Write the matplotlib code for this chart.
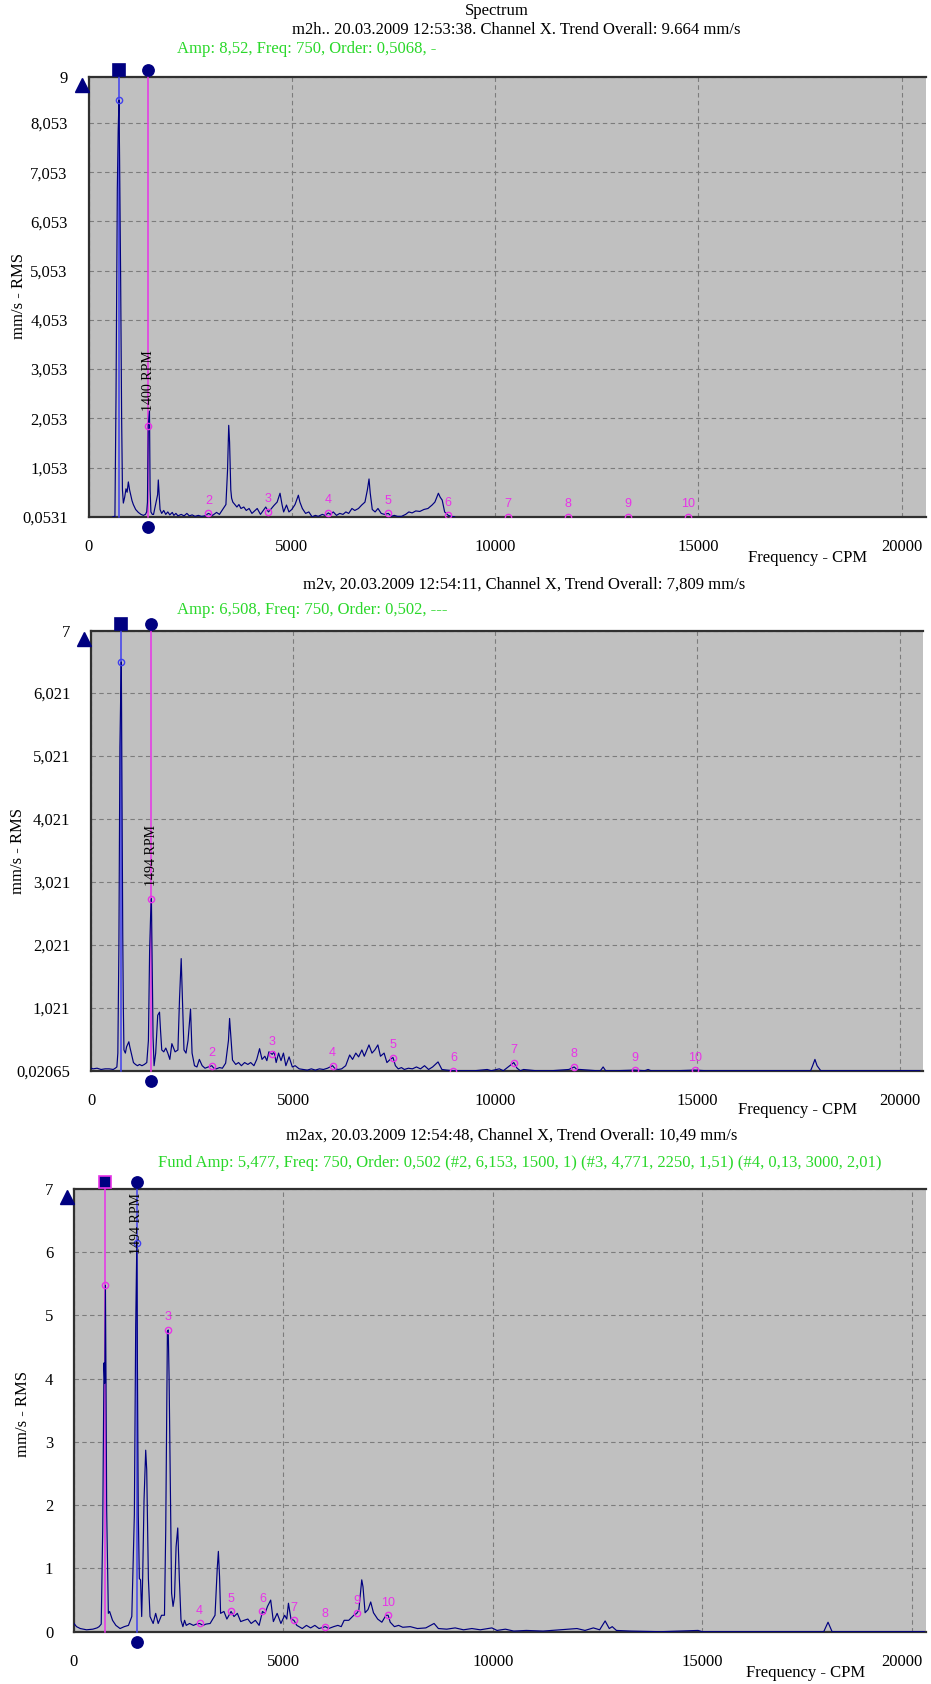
import matplotlib
matplotlib.use("Agg")
import matplotlib.pyplot as plt
import matplotlib.transforms as mtransforms

W, H, DPI = 931, 1684, 100
SERIF = ["Liberation Serif", "DejaVu Serif"]
SANS = ["Liberation Sans", "DejaVu Sans"]

NAVY = "#000080"
CURSOR_BLUE = "#4040ee"
MAGENTA = "#e833e8"
GREEN = "#2ad82a"
PANEL_BG = "#c0c0c0"
GRID = "#7c7c7c"
TEXT_SIZE = 12

# ---------------------------------------------------------------- m2h
m2h_spectrum = [
    (600, 0.0531), (650, 0.06), (677, 2.52), (709, 6.72), (730, 7.9), (750, 8.52),
    (765, 7.29), (791, 4.85), (815, 2.05), (835, 0.6), (857, 0.33), (890, 0.45),
    (922, 0.62), (950, 0.55), (980, 0.76), (1010, 0.6), (1037, 0.5), (1070, 0.38),
    (1103, 0.3), (1160, 0.2), (1226, 0.14), (1290, 0.1), (1349, 0.08), (1400, 0.1),
    (1431, 0.15), (1450, 0.35), (1460, 1.07), (1470, 1.9), (1500, 2.2), (1515, 0.6),
    (1535, 0.15), (1570, 0.1), (1600, 0.1), (1650, 0.3), (1700, 0.5), (1717, 0.8),
    (1735, 0.55), (1760, 0.2), (1800, 0.12), (1850, 0.18), (1900, 0.1), (1950, 0.15),
    (2000, 0.09), (2060, 0.14), (2100, 0.08), (2150, 0.12), (2200, 0.07), (2280, 0.1),
    (2350, 0.07), (2420, 0.12), (2480, 0.07), (2550, 0.09), (2620, 0.06), (2700, 0.08),
    (2780, 0.06), (2860, 0.07), (2950, 0.12), (3000, 0.1), (3050, 0.08), (3150, 0.14),
    (3220, 0.1), (3300, 0.2), (3380, 0.3), (3420, 1.0), (3449, 1.91), (3470, 1.57),
    (3500, 0.6), (3520, 0.43), (3550, 0.35), (3600, 0.3), (3650, 0.25), (3700, 0.3),
    (3750, 0.22), (3820, 0.25), (3880, 0.18), (3950, 0.22), (4020, 0.12), (4100, 0.18),
    (4150, 0.22), (4230, 0.1), (4300, 0.18), (4360, 0.25), (4425, 0.15), (4480, 0.2),
    (4560, 0.28), (4640, 0.35), (4711, 0.53), (4760, 0.3), (4800, 0.15), (4870, 0.29),
    (4930, 0.15), (5000, 0.2), (5080, 0.3), (5162, 0.49), (5200, 0.35), (5260, 0.22),
    (5340, 0.12), (5420, 0.15), (5500, 0.05), (5580, 0.08), (5650, 0.06), (5750, 0.1),
    (5820, 0.08), (5900, 0.13), (5950, 0.1), (6020, 0.15), (6100, 0.08), (6180, 0.12),
    (6260, 0.1), (6330, 0.15), (6400, 0.12), (6480, 0.22), (6550, 0.18), (6640, 0.22),
    (6720, 0.29), (6800, 0.35), (6860, 0.6), (6900, 0.82), (6930, 0.53), (6980, 0.2),
    (7050, 0.15), (7120, 0.22), (7200, 0.12), (7280, 0.1), (7375, 0.12), (7450, 0.06),
    (7520, 0.08), (7600, 0.06), (7700, 0.06), (7800, 0.1), (7880, 0.15), (7960, 0.13),
    (8050, 0.17), (8150, 0.16), (8250, 0.2), (8350, 0.22), (8450, 0.29), (8520, 0.35),
    (8606, 0.53), (8650, 0.45), (8700, 0.39), (8760, 0.15), (8850, 0.08), (8920, 0.06),
    (9000, 0.0531),
]
m2h_yticks = [0.0531, 1.053, 2.053, 3.053, 4.053, 5.053, 6.053, 7.053, 8.053, 9]
m2h_ylabels = ["0,0531", "1,053", "2,053", "3,053", "4,053", "5,053", "6,053",
               "7,053", "8,053", "9"]
m2h_harm_freq = [2950, 4425, 5900, 7375, 8850, 10325, 11800, 13275, 14750]
m2h_harm_amp = [0.12, 0.15, 0.13, 0.12, 0.08, 0.0531, 0.0531, 0.0531, 0.0531]
m2h_harm_num = [2, 3, 4, 5, 6, 7, 8, 9, 10]
m2h_cursor_freq = [750, 1470]
m2h_cursor_amp = [8.52, 1.9]

# ---------------------------------------------------------------- m2v
m2v_spectrum = [
    (0, 0.06), (50, 0.05), (150, 0.06), (250, 0.04), (350, 0.05), (450, 0.05),
    (550, 0.04), (600, 0.06), (640, 0.08), (664, 0.3), (690, 1.99), (715, 5.16),
    (735, 6.0), (750, 6.508), (765, 4.63), (785, 2.2), (800, 1.02), (815, 0.35),
    (850, 0.3), (880, 0.4), (936, 0.48), (960, 0.4), (1000, 0.29), (1050, 0.15),
    (1100, 0.12), (1150, 0.1), (1200, 0.12), (1260, 0.1), (1320, 0.12), (1380, 0.15),
    (1420, 0.5), (1450, 1.93), (1475, 2.49), (1494, 2.75), (1510, 1.88), (1535, 0.56),
    (1560, 0.1), (1600, 0.3), (1650, 0.9), (1695, 0.95), (1720, 0.66), (1750, 0.35),
    (1800, 0.32), (1850, 0.38), (1900, 0.3), (1950, 0.2), (2000, 0.45), (2080, 0.32),
    (2150, 0.35), (2190, 1.17), (2231, 1.8), (2260, 1.2), (2300, 0.35), (2350, 0.3),
    (2400, 0.5), (2462, 1.0), (2500, 0.3), (2560, 0.1), (2620, 0.08), (2680, 0.2),
    (2750, 0.1), (2820, 0.06), (2900, 0.08), (2988, 0.1), (3040, 0.06), (3100, 0.05),
    (3180, 0.07), (3250, 0.06), (3330, 0.14), (3400, 0.5), (3428, 0.85), (3460, 0.56),
    (3500, 0.19), (3580, 0.12), (3650, 0.15), (3720, 0.1), (3800, 0.15), (3880, 0.12),
    (3950, 0.15), (4030, 0.1), (4100, 0.2), (4170, 0.37), (4230, 0.2), (4300, 0.25),
    (4350, 0.18), (4400, 0.32), (4482, 0.28), (4530, 0.32), (4580, 0.15), (4640, 0.3),
    (4700, 0.18), (4760, 0.3), (4820, 0.1), (4900, 0.24), (4980, 0.08), (5050, 0.1),
    (5150, 0.05), (5250, 0.04), (5350, 0.03), (5450, 0.05), (5550, 0.03), (5650, 0.05),
    (5750, 0.04), (5850, 0.06), (5976, 0.1), (6040, 0.05), (6120, 0.04), (6200, 0.05),
    (6300, 0.1), (6398, 0.27), (6470, 0.2), (6550, 0.3), (6620, 0.24), (6700, 0.35),
    (6760, 0.25), (6876, 0.43), (6950, 0.3), (7020, 0.35), (7096, 0.43), (7160, 0.25),
    (7250, 0.3), (7320, 0.15), (7400, 0.2), (7470, 0.23), (7530, 0.1), (7600, 0.05),
    (7680, 0.07), (7750, 0.04), (7850, 0.06), (7950, 0.05), (8050, 0.08), (8150, 0.05),
    (8250, 0.1), (8350, 0.04), (8450, 0.08), (8584, 0.16), (8680, 0.04), (8800, 0.03),
    (8964, 0.0207), (9500, 0.0207), (9800, 0.04), (9900, 0.0207), (10100, 0.05),
    (10200, 0.0207), (10320, 0.08), (10458, 0.15), (10540, 0.06), (10620, 0.0207),
    (10700, 0.04), (10850, 0.03), (11000, 0.0207), (11400, 0.0207), (11820, 0.04),
    (11952, 0.08), (12020, 0.04), (12100, 0.04), (12300, 0.03), (12500, 0.0207),
    (12600, 0.0207), (12668, 0.08), (12730, 0.0207), (13000, 0.0207), (13446, 0.03),
    (13700, 0.0207), (13780, 0.04), (13850, 0.0207), (14500, 0.0207), (14940, 0.03),
    (15200, 0.0207), (17800, 0.0207), (17850, 0.1), (17907, 0.2), (17960, 0.1),
    (18050, 0.0207), (20500, 0.0207),
]
m2v_yticks = [0.02065, 1.021, 2.021, 3.021, 4.021, 5.021, 6.021, 7]
m2v_ylabels = ["0,02065", "1,021", "2,021", "3,021", "4,021", "5,021", "6,021", "7"]
m2v_harm_freq = [2988, 4482, 5976, 7470, 8964, 10458, 11952, 13446, 14940]
m2v_harm_amp = [0.1, 0.28, 0.1, 0.23, 0.0207, 0.15, 0.08, 0.03, 0.03]
m2v_harm_num = [2, 3, 4, 5, 6, 7, 8, 9, 10]
m2v_cursor_freq = [750, 1494]
m2v_cursor_amp = [6.508, 2.75]

# ---------------------------------------------------------------- m2ax
m2ax_spectrum = [
    (0, 0.13), (60, 0.08), (150, 0.05), (300, 0.03), (450, 0.04), (550, 0.06),
    (600, 0.08), (650, 0.12), (685, 1.6), (716, 4.25), (735, 3.93), (750, 5.477),
    (765, 3.9), (780, 1.93), (820, 0.29), (850, 0.32), (920, 0.18), (1000, 0.1),
    (1100, 0.05), (1200, 0.08), (1300, 0.1), (1380, 0.24), (1441, 1.85), (1473, 4.83),
    (1500, 6.153), (1513, 4.35), (1535, 1.85), (1560, 0.84), (1590, 0.82), (1616, 0.24),
    (1640, 0.87), (1672, 2.08), (1712, 2.87), (1736, 2.56), (1776, 0.84), (1815, 0.24),
    (1890, 0.13), (1950, 0.29), (2010, 0.13), (2090, 0.26), (2160, 0.26), (2190, 1.6),
    (2230, 4.75), (2250, 4.771), (2270, 4.03), (2294, 2.64), (2330, 0.61), (2365, 0.4),
    (2400, 0.55), (2437, 1.34), (2477, 1.64), (2515, 0.84), (2555, 0.18), (2600, 0.08),
    (2640, 0.18), (2680, 0.1), (2760, 0.13), (2850, 0.1), (2920, 0.12), (3000, 0.13),
    (3080, 0.1), (3150, 0.12), (3250, 0.13), (3367, 0.26), (3420, 1.0), (3447, 1.27),
    (3475, 0.87), (3500, 0.29), (3580, 0.32), (3650, 0.2), (3750, 0.32), (3820, 0.24),
    (3900, 0.29), (3980, 0.16), (4060, 0.18), (4150, 0.2), (4230, 0.13), (4330, 0.18),
    (4420, 0.1), (4500, 0.32), (4560, 0.29), (4620, 0.4), (4696, 0.5), (4760, 0.16),
    (4850, 0.29), (4940, 0.13), (5030, 0.26), (5080, 0.2), (5120, 0.45), (5180, 0.2),
    (5250, 0.18), (5320, 0.1), (5450, 0.05), (5550, 0.1), (5650, 0.06), (5750, 0.1),
    (5850, 0.05), (6000, 0.08), (6080, 0.05), (6200, 0.08), (6300, 0.1), (6380, 0.08),
    (6450, 0.18), (6560, 0.18), (6680, 0.26), (6750, 0.29), (6800, 0.34), (6870, 0.82),
    (6900, 0.71), (6950, 0.3), (7020, 0.35), (7084, 0.47), (7150, 0.3), (7250, 0.2),
    (7350, 0.15), (7450, 0.26), (7500, 0.26), (7550, 0.15), (7650, 0.08), (7750, 0.1),
    (7850, 0.07), (8028, 0.08), (8200, 0.05), (8400, 0.06), (8597, 0.13), (8700, 0.05),
    (8900, 0.04), (9100, 0.06), (9300, 0.03), (9500, 0.05), (9700, 0.03), (9977, 0.06),
    (10100, 0.02), (10300, 0.04), (10500, 0.01), (10800, 0.02), (11200, 0.01),
    (11600, 0.03), (12009, 0.05), (12200, 0.02), (12400, 0.06), (12550, 0.03),
    (12681, 0.17), (12780, 0.05), (12850, 0.08), (12950, 0.02), (13300, 0.01),
    (14000, 0.0), (14900, 0.02), (15000, 0.0), (17900, 0.0), (18003, 0.15),
    (18100, 0.0), (20300, 0.0),
]
m2ax_yticks = [0, 1, 2, 3, 4, 5, 6, 7]
m2ax_ylabels = ["0", "1", "2", "3", "4", "5", "6", "7"]
m2ax_harm_freq = [2250, 3000, 3750, 4500, 5250, 6000, 6750, 7500]
m2ax_harm_amp = [4.771, 0.13, 0.32, 0.32, 0.18, 0.08, 0.29, 0.26]
m2ax_harm_num = [3, 4, 5, 6, 7, 8, 9, 10]
m2ax_cursor_freq = [750, 1500]
m2ax_cursor_amp = [5.477, 6.153]

x_ticks = [0, 5000, 10000, 15000, 20000]
x_labels = ["0", "5000", "10000", "15000", "20000"]

fig = plt.figure(figsize=(W / DPI, H / DPI), dpi=DPI, facecolor="white")


def fig_text(x, y, s, **kw):
    kw.setdefault("family", SERIF)
    kw.setdefault("fontsize", TEXT_SIZE)
    fig.text(x / W, 1 - y / H, s, **kw)


def draw_panel(box, xmax, spectrum, yticks, ylabels, harm_freq, harm_amp, harm_num,
               cursor_freq, cursor_amp, square_line, circle_line, rpm_text, rpm_y,
               square_face=NAVY, square_edge=NAVY, last_label_shift=0):
    left, right, top, bottom = box
    ax = fig.add_axes([left / W, 1 - bottom / H, (right - left) / W, (bottom - top) / H])
    ax.set_facecolor(PANEL_BG)
    ax.set_xlim(0, xmax)
    ax.set_ylim(yticks[0], yticks[-1])
    h_px = bottom - top
    w_px = right - left

    ax.set_xticks(x_ticks)
    ax.set_xticklabels(x_labels)
    ax.set_yticks(yticks)
    ax.set_yticklabels(ylabels)
    ax.tick_params(axis="y", length=0, labelsize=TEXT_SIZE, pad=15)
    ax.tick_params(axis="x", length=0, labelsize=TEXT_SIZE, pad=16)
    for lab in ax.get_xticklabels() + ax.get_yticklabels():
        lab.set_family(SERIF)
    if last_label_shift:
        last = ax.get_xticklabels()[-1]
        last.set_transform(last.get_transform() + mtransforms.ScaledTranslation(
            last_label_shift / DPI, 0, fig.dpi_scale_trans))
    ax.grid(True, color=GRID, lw=0.8, ls=(0, (4, 3)))
    ax.set_axisbelow(True)
    for side in ("left", "bottom", "top"):
        ax.spines[side].set_color("#303030")
        ax.spines[side].set_linewidth(1.6)
    ax.spines["right"].set_visible(False)

    freqs = [p[0] for p in spectrum]
    amps = [p[1] for p in spectrum]

    xt = ax.get_xaxis_transform()
    top_y = 1 + 7 / h_px
    bot_y = -10 / h_px

    # cursor lines (square cursor and circle cursor)
    sq_f, ci_f = cursor_freq
    sq_a, ci_a = cursor_amp
    ax.plot([sq_f, sq_f], [0, top_y], transform=xt, color=square_line, lw=1.1,
            clip_on=False, zorder=3)
    ax.plot([ci_f, ci_f], [0, top_y], transform=xt, color=circle_line, lw=1.1,
            clip_on=False, zorder=3)

    ax.plot(freqs, amps, color=NAVY, lw=0.85, zorder=4)

    ax.plot([sq_f], [sq_a], "o", ms=4.5, mfc="none", mec=square_line, mew=1.0, zorder=5)
    ax.plot([ci_f], [ci_a], "o", ms=4.5, mfc="none", mec=circle_line, mew=1.0, zorder=5)

    ax.plot([sq_f], [top_y], "s", ms=8.8, mfc=square_face, mec=square_edge, mew=1.2,
            transform=xt, clip_on=False, zorder=6)
    ax.plot([ci_f], [top_y], "o", ms=8.2, mfc=NAVY, mec=NAVY, transform=xt,
            clip_on=False, zorder=6)
    ax.plot([ci_f], [bot_y], "o", ms=8.2, mfc=NAVY, mec=NAVY, transform=xt,
            clip_on=False, zorder=6)
    ax.plot([-7 / w_px], [1 - 8 / h_px], "^", ms=9.5, mfc=NAVY, mec=NAVY,
            transform=ax.transAxes, clip_on=False, zorder=6)

    ax.text(ci_f, rpm_y, rpm_text, rotation=90, ha="center", va="center",
            family=SERIF, fontsize=10, color="black", zorder=7)

    # harmonic markers with their order numbers
    ax.plot(harm_freq, harm_amp, "o", ms=4.5, mfc="none", mec=MAGENTA, mew=1.0, zorder=5)
    for f, a, n in zip(harm_freq, harm_amp, harm_num):
        ax.annotate(str(n), (f, a), xytext=(0, 9), textcoords="offset points",
                    ha="center", va="center", color=MAGENTA, fontsize=9, family=SANS,
                    zorder=7)
    return ax


# panel 1 -------------------------------------------------------------
fig_text(497, 11, "Spectrum", ha="center", va="center")
fig_text(516, 30, "m2h.. 20.03.2009 12:53:38. Channel X. Trend Overall: 9.664 mm/s",
         ha="center", va="center")
fig_text(177, 49, "Amp: 8,52, Freq: 750, Order: 0,5068, -", ha="left", va="center",
         color=GREEN)
draw_panel((88.5, 926, 76.5, 516.7), 20600, m2h_spectrum, m2h_yticks, m2h_ylabels,
           m2h_harm_freq, m2h_harm_amp, m2h_harm_num, m2h_cursor_freq, m2h_cursor_amp,
           CURSOR_BLUE, MAGENTA, "1400 RPM", 2.81)
fig_text(19, 296, "mm/s - RMS", ha="center", va="center", rotation=90)
fig_text(808, 558, "Frequency - CPM", ha="center", va="center")

# panel 2 -------------------------------------------------------------
fig_text(524, 585, "m2v, 20.03.2009 12:54:11, Channel X, Trend Overall: 7,809 mm/s",
         ha="center", va="center")
fig_text(177, 610, "Amp: 6,508, Freq: 750, Order: 0,502, ---", ha="left", va="center",
         color=GREEN)
draw_panel((91, 923, 631, 1070.7), 20580, m2v_spectrum, m2v_yticks, m2v_ylabels,
           m2v_harm_freq, m2v_harm_amp, m2v_harm_num, m2v_cursor_freq, m2v_cursor_amp,
           CURSOR_BLUE, MAGENTA, "1494 RPM", 3.44)
fig_text(18, 851, "mm/s - RMS", ha="center", va="center", rotation=90)
fig_text(798, 1110, "Frequency - CPM", ha="center", va="center")

# panel 3 -------------------------------------------------------------
fig_text(512, 1136, "m2ax, 20.03.2009 12:54:48, Channel X, Trend Overall: 10,49 mm/s",
         ha="center", va="center")
fig_text(520, 1163,
         "Fund Amp: 5,477, Freq: 750, Order: 0,502 (#2, 6,153, 1500, 1) "
         "(#3, 4,771, 2250, 1,51) (#4, 0,13, 3000, 2,01)",
         ha="center", va="center", color=GREEN)
draw_panel((74, 925.5, 1189, 1631.7), 20330, m2ax_spectrum, m2ax_yticks, m2ax_ylabels,
           m2ax_harm_freq, m2ax_harm_amp, m2ax_harm_num, m2ax_cursor_freq,
           m2ax_cursor_amp, MAGENTA, CURSOR_BLUE, "1494 RPM", 6.45,
           square_face=NAVY, square_edge=MAGENTA, last_label_shift=-10)
fig_text(23, 1414, "mm/s - RMS", ha="center", va="center", rotation=90)
fig_text(806, 1673, "Frequency - CPM", ha="center", va="center")

fig.savefig("out.png", dpi=DPI, facecolor="white")
